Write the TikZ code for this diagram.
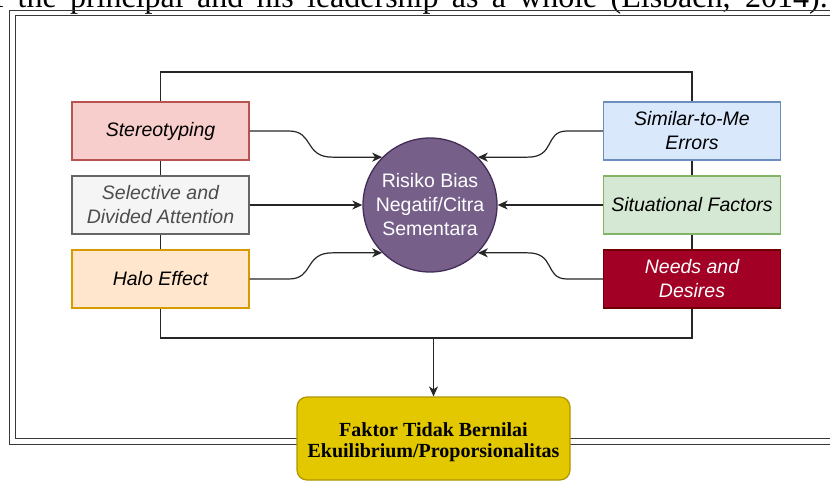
\documentclass[tikz,border=0pt]{standalone}
\usepackage{fontspec}
\setmainfont{Liberation Serif}
\newfontfamily\arialf{Liberation Sans}
\usetikzlibrary{arrows.meta}
\definecolor{stF}{HTML}{F8CECC}\definecolor{stD}{HTML}{B85450}
\definecolor{seF}{HTML}{F5F5F5}\definecolor{seD}{HTML}{666666}\definecolor{seT}{HTML}{4D4D4D}
\definecolor{haF}{HTML}{FFE6CC}\definecolor{haD}{HTML}{D79B00}
\definecolor{siF}{HTML}{DAE8FC}\definecolor{siD}{HTML}{6C8EBF}
\definecolor{suF}{HTML}{D5E8D4}\definecolor{suD}{HTML}{82B366}
\definecolor{neF}{HTML}{A20025}\definecolor{neD}{HTML}{6F0000}
\definecolor{ciF}{HTML}{76608A}\definecolor{ciD}{HTML}{432D57}
\definecolor{fkF}{HTML}{E3C800}\definecolor{fkD}{HTML}{B09500}
\definecolor{lineC}{HTML}{262626}
\begin{document}
\begin{tikzpicture}[x=1pt,y=-1pt,
  factorbox/.style={draw, line width=1.3pt, minimum width=177pt, minimum height=58pt,
    inner sep=0pt, align=center, font=\arialf\itshape\fontsize{19.5}{24}\selectfont},
  conn/.style={line width=1.2pt, draw=lineC, -{Stealth[length=10pt,width=9pt,inset=3pt]}},
  framel/.style={line width=1.4pt, draw=black!78}]
\useasboundingbox (0,0) rectangle (830,481);
\clip (0,0) rectangle (830,481);
% cut-off sentence at the top
\node[anchor=base east, inner sep=0pt, font=\fontsize{32}{36}\selectfont] (toptext) at (828,7.3)
  {\makebox[850pt][s]{of the principal and his leadership as a whole (Elsbach, 2014).}};
% double frame
\draw[framel] (850,10.5) -| (9.5,444.5) -- (850,444.5);
\draw[framel] (850,15.5) -| (15.5,438.5) -- (850,438.5);
% bracket
\draw[line width=1.2pt, draw=lineC] (160.5,72) rectangle (692,338);
% left boxes
\node[factorbox, fill=stF, draw=stD] (stereo) at (160.5,131) {Stereotyping};
\node[factorbox, fill=seF, draw=seD, text=seT] (sel) at (160.5,205) {Selective and\\Divided Attention};
\node[factorbox, fill=haF, draw=haD] (halo) at (160.5,279) {Halo Effect};
% right boxes
\node[factorbox, fill=siF, draw=siD] (simil) at (692,131) {Similar-to-Me\\Errors};
\node[factorbox, fill=suF, draw=suD] (situ) at (692,205) {Situational Factors};
\node[factorbox, fill=neF, draw=neD, text=white] (needs) at (692,279) {Needs and\\Desires};
% centre circle
\node[circle, fill=ciF, draw=ciD, line width=1.3pt, minimum size=134pt, inner sep=0pt,
  align=center, text=white, font=\arialf\fontsize{19.5}{24}\selectfont] (risk) at (430,205)
  {Risiko Bias\\Negatif/Citra\\Sementara};
% helper coordinates
\coordinate (kl) at (333,0);
\coordinate (kr) at (527,0);
% connectors
\draw[conn] (stereo.east) -- (289,131) .. controls (314,131) and (304,157.6) .. (risk.135 -| kl) -- (risk.135);
\draw[conn] (sel.east) -- (risk.west);
\draw[conn] (halo.east) -- (289,279) .. controls (314,279) and (304,252.4) .. (risk.225 -| kl) -- (risk.225);
\draw[conn] (simil.west) -- (567,131) .. controls (544,131) and (556,157.6) .. (risk.45 -| kr) -- (risk.45);
\draw[conn] (situ.west) -- (risk.east);
\draw[conn] (needs.west) -- (567,279) .. controls (544,279) and (556,252.4) .. (risk.-45 -| kr) -- (risk.-45);
% bottom box
\coordinate (bm) at (433.5,338);
\node[draw=fkD, fill=fkF, rounded corners=10pt, line width=1.2pt, minimum width=273pt,
  minimum height=83pt, inner sep=0pt] (fbox) at (433.5,438.5) {};
\node[align=center, inner sep=0pt, font=\bfseries\fontsize{20}{21}\selectfont] (ftext) at (433.5,442.5)
  {Faktor Tidak Bernilai\\Ekuilibrium/Proporsionalitas};
\draw[conn] (bm) -- (fbox.north);
\end{tikzpicture}
\end{document}
